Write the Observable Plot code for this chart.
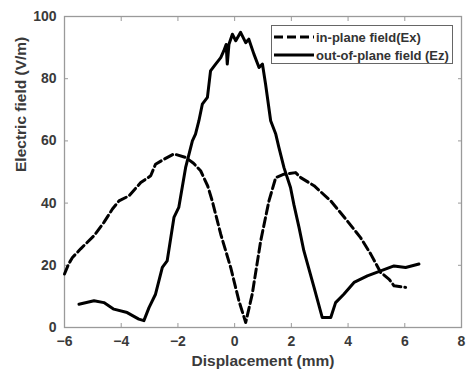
<!DOCTYPE html>
<html><head><meta charset="utf-8">
<script src="https://cdn.jsdelivr.net/npm/d3@7"></script>
<script src="https://cdn.jsdelivr.net/npm/@observablehq/plot@0.6"></script>
<style>
body{margin:0;background:#fff;font-family:"Liberation Sans",Arial,sans-serif;}
#wrap{position:relative;width:467px;height:375px;}
#legend{position:absolute;left:271px;top:25px;width:180px;height:37px;border:1px solid #666;background:#fff;font-weight:bold;font-size:13px;color:#333;}
#legend .row{position:absolute;left:2px;height:16px;display:flex;align-items:center;}
#legend svg{margin-right:2px;}
</style></head><body>
<div id="wrap"><div id="legend"></div></div>
<script>
const seriesNames = ["in-plane field(Ex)", "out-of-plane field (Ez)"];
const xTicks = [-6, -4, -2, 0, 2, 4, 6, 8];
const yTicks = [0, 20, 40, 60, 80, 100];
const xLabel = "Displacement (mm)";
const yLabel = "Electric field (V/m)";

const exX = [-6.0,-5.85,-5.72,-5.43,-4.96,-4.61,-4.31,-4.08,-3.73,-3.31,-2.96,-2.79,-2.49,-2.14,-1.73,-1.45,-1.2,-0.95,-0.79,-0.49,-0.14,0.15,0.39,0.62,0.92,1.21,1.45,1.74,2.15,2.33,2.8,3.39,3.97,4.44,4.80,5.15,5.45,5.62,6.03];
const exY = [17.2,20.5,22.5,25.3,29.5,33.8,38.1,40.7,42.3,46.6,48.8,52.5,54.1,55.8,54.7,52.8,50.4,45.5,40.7,30,19.3,8.6,1.6,10.7,27.9,40.7,48.2,49.3,49.8,48.2,45.6,40.7,34.3,28.9,23.6,17.7,15.5,13.4,12.9];

const ezX = [-5.49,-4.96,-4.61,-4.26,-3.79,-3.38,-3.2,-3.02,-2.79,-2.55,-2.38,-2.14,-1.97,-1.73,-1.49,-1.38,-1.26,-1.14,-0.96,-0.85,-0.67,-0.49,-0.38,-0.3,-0.26,-0.2,-0.08,0.04,0.21,0.39,0.5,0.68,0.86,0.98,1.09,1.27,1.45,1.56,1.74,1.97,2.09,2.27,2.44,2.8,3.09,3.39,3.56,3.85,4.21,4.68,5.15,5.62,6.03,6.5];
const ezY = [7.5,8.6,8,5.9,4.8,2.7,2.2,6.4,10.7,19.3,21.4,35.4,38.6,51.4,60,62.2,66.5,71.8,74,82.5,84.7,86.8,89,91,84.7,91.1,94.3,92.2,94.9,91.6,92.7,87.9,83.6,84.7,78.3,66.5,62.2,57.9,51.4,45,39.5,32.2,24.7,12.9,3.2,3.2,8,10.7,14.5,16.6,18.2,19.8,19.3,20.4];

const ex = exX.map((x, i) => ({x, y: exY[i]}));
const ez = ezX.map((x, i) => ({x, y: ezY[i]}));

const textColor = "#3a3a3a";
const axisColor = "#9a9a9a";

const chart = Plot.plot({
  width: 467, height: 375,
  marginLeft: 64, marginRight: 6, marginTop: 16, marginBottom: 48,
  style: {fontFamily: '"Liberation Sans", Arial, sans-serif', fontWeight: "bold", fontSize: "14px", color: textColor, background: "#fff"},
  x: {domain: [-6, 8], ticks: xTicks},
  y: {domain: [0, 100], ticks: yTicks},
  marks: [
    Plot.frame({stroke: axisColor, strokeWidth: 1.3}),
    Plot.axisX(xTicks, {anchor: "bottom", tickSize: -4, tickPadding: 13, stroke: axisColor, fill: textColor, label: null, fontSize: 14}),
    Plot.axisX(xTicks, {anchor: "top", tickSize: -4, tickFormat: () => "", stroke: axisColor, label: null}),
    Plot.axisY(yTicks, {anchor: "left", tickSize: -4, tickPadding: 12, stroke: axisColor, fill: textColor, label: null, fontSize: 14}),
    Plot.axisY(yTicks, {anchor: "right", tickSize: -4, tickFormat: () => "", stroke: axisColor, label: null}),
    Plot.line(ex, {x: "x", y: "y", stroke: "#000", strokeWidth: 3, strokeDasharray: "9,4"}),
    Plot.line(ez, {x: "x", y: "y", stroke: "#000", strokeWidth: 3}),
    Plot.text([xLabel], {text: d => d, frameAnchor: "bottom", dy: 38, fontSize: 15.5, fontWeight: "bold", fill: textColor}),
    Plot.text([yLabel], {text: d => d, frameAnchor: "left", dx: -43, rotate: -90, fontSize: 15.5, fontWeight: "bold", fill: textColor})
  ]
});
document.getElementById("wrap").prepend(chart);

const legend = document.getElementById("legend");
const dashes = ["9,4", null];
seriesNames.forEach((name, i) => {
  const row = document.createElement("div");
  row.className = "row";
  row.style.top = (3 + i * 18) + "px";
  const dash = dashes[i] ? `stroke-dasharray="${dashes[i]}"` : "";
  row.innerHTML = `<svg width="40" height="8"><line x1="0" x2="40" y1="4" y2="4" stroke="#000" stroke-width="3" ${dash}/></svg><span>${name}</span>`;
  legend.appendChild(row);
});
</script>
</body></html>
